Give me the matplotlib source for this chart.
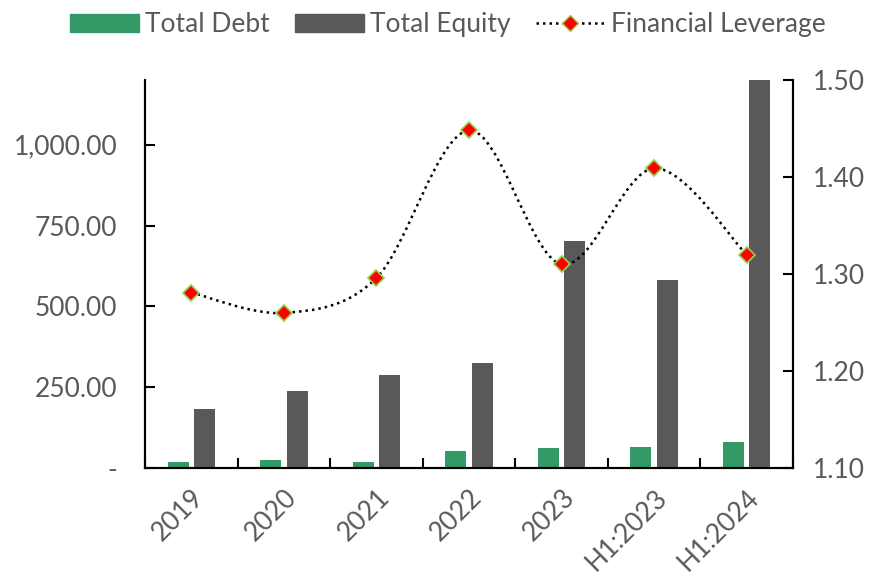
import numpy as np
import matplotlib.pyplot as plt
from matplotlib.path import Path
from matplotlib.patches import PathPatch, Patch
from matplotlib.lines import Line2D
from matplotlib.ticker import FuncFormatter, MultipleLocator

plt.rcParams['font.family'] = ['Lato', 'DejaVu Sans']

periods = ['2019', '2020', '2021', '2022', '2023', 'H1:2023', 'H1:2024']
total_debt = [19, 25, 19, 53, 62, 65, 80]
total_equity = [183, 238, 288, 325, 703, 582, 1200]
leverage = [1.281, 1.260, 1.296, 1.448, 1.310, 1.409, 1.320]

text_grey = '#595959'
green = '#339966'
dark = '#595959'

fig = plt.figure(figsize=(8.87, 5.78), dpi=100)
ax = fig.add_axes([0.1635, 0.19, 0.7305, 0.6716])
ax2 = ax.twinx()

x = np.arange(len(periods))
w = 0.227
ax.bar(x - 0.143, total_debt, w, color=green, zorder=2)
ax.bar(x + 0.143, total_equity, w, color=dark, zorder=2)

ax.set_xlim(-0.5, len(periods) - 0.5)
ax.set_ylim(0, 1200)
ax.yaxis.set_major_locator(MultipleLocator(250))
ax.yaxis.set_major_formatter(FuncFormatter(lambda v, p: '-' if v == 0 else f'{v:,.2f}'))
ax.set_xticks(x)
ax.set_xticklabels(periods, rotation=45, ha='right', va='top', rotation_mode='anchor')
ax.set_xticks(np.arange(len(periods) + 1) - 0.5, minor=True)
ax.tick_params(axis='x', which='major', length=0, pad=12, labelsize=19, labelcolor=text_grey)
ax.tick_params(axis='x', which='minor', direction='in', length=7, width=1.5)
ax.tick_params(axis='y', direction='in', length=7, width=1.5, pad=20, labelsize=19, labelcolor=text_grey)

# smoothed leverage line (Excel-style bezier through the points)
pts = np.column_stack([x, leverage])
ext = np.vstack([pts[0], pts, pts[-1]])
verts = [tuple(pts[0])]
codes = [Path.MOVETO]
for i in range(len(pts) - 1):
    c1 = ext[i + 1] + (ext[i + 2] - ext[i]) / 6
    c2 = ext[i + 2] - (ext[i + 3] - ext[i + 1]) / 6
    verts += [tuple(c1), tuple(c2), tuple(pts[i + 1])]
    codes += [Path.CURVE4] * 3
ax2.add_patch(PathPatch(Path(verts, codes), fill=False, edgecolor='black',
                        lw=1.8, linestyle=(0, (1, 1.6)), zorder=3))
ax2.plot(x, leverage, linestyle='none', marker='D', markersize=8,
         markerfacecolor='red', markeredgecolor='#92d050', markeredgewidth=1.2, zorder=4)
ax2.set_ylim(1.10, 1.50)
ax2.yaxis.set_major_locator(MultipleLocator(0.10))
ax2.yaxis.set_major_formatter(FuncFormatter(lambda v, p: f'{v:.2f}'))
ax2.tick_params(axis='y', direction='in', length=7, width=1.5, pad=14, labelsize=19, labelcolor=text_grey)

for a in (ax, ax2):
    a.spines['top'].set_visible(False)
    for s in ('left', 'right', 'bottom'):
        a.spines[s].set_linewidth(1.5)

handles = [Patch(color=green, label='Total Debt'),
           Patch(color=dark, label='Total Equity'),
           Line2D([], [], color='black', lw=1.8, linestyle=(0, (1, 1.6)), marker='D',
                  markersize=8, markerfacecolor='red', markeredgecolor='#92d050',
                  label='Financial Leverage')]
fig.legend(handles=handles, loc='center', bbox_to_anchor=(0.505, 0.957), ncol=3,
           frameon=False, fontsize=19, labelcolor=text_grey, handlelength=2.6,
           handleheight=0.65, handletextpad=0.25, columnspacing=0.95)

fig.savefig('out.png', dpi=100)
